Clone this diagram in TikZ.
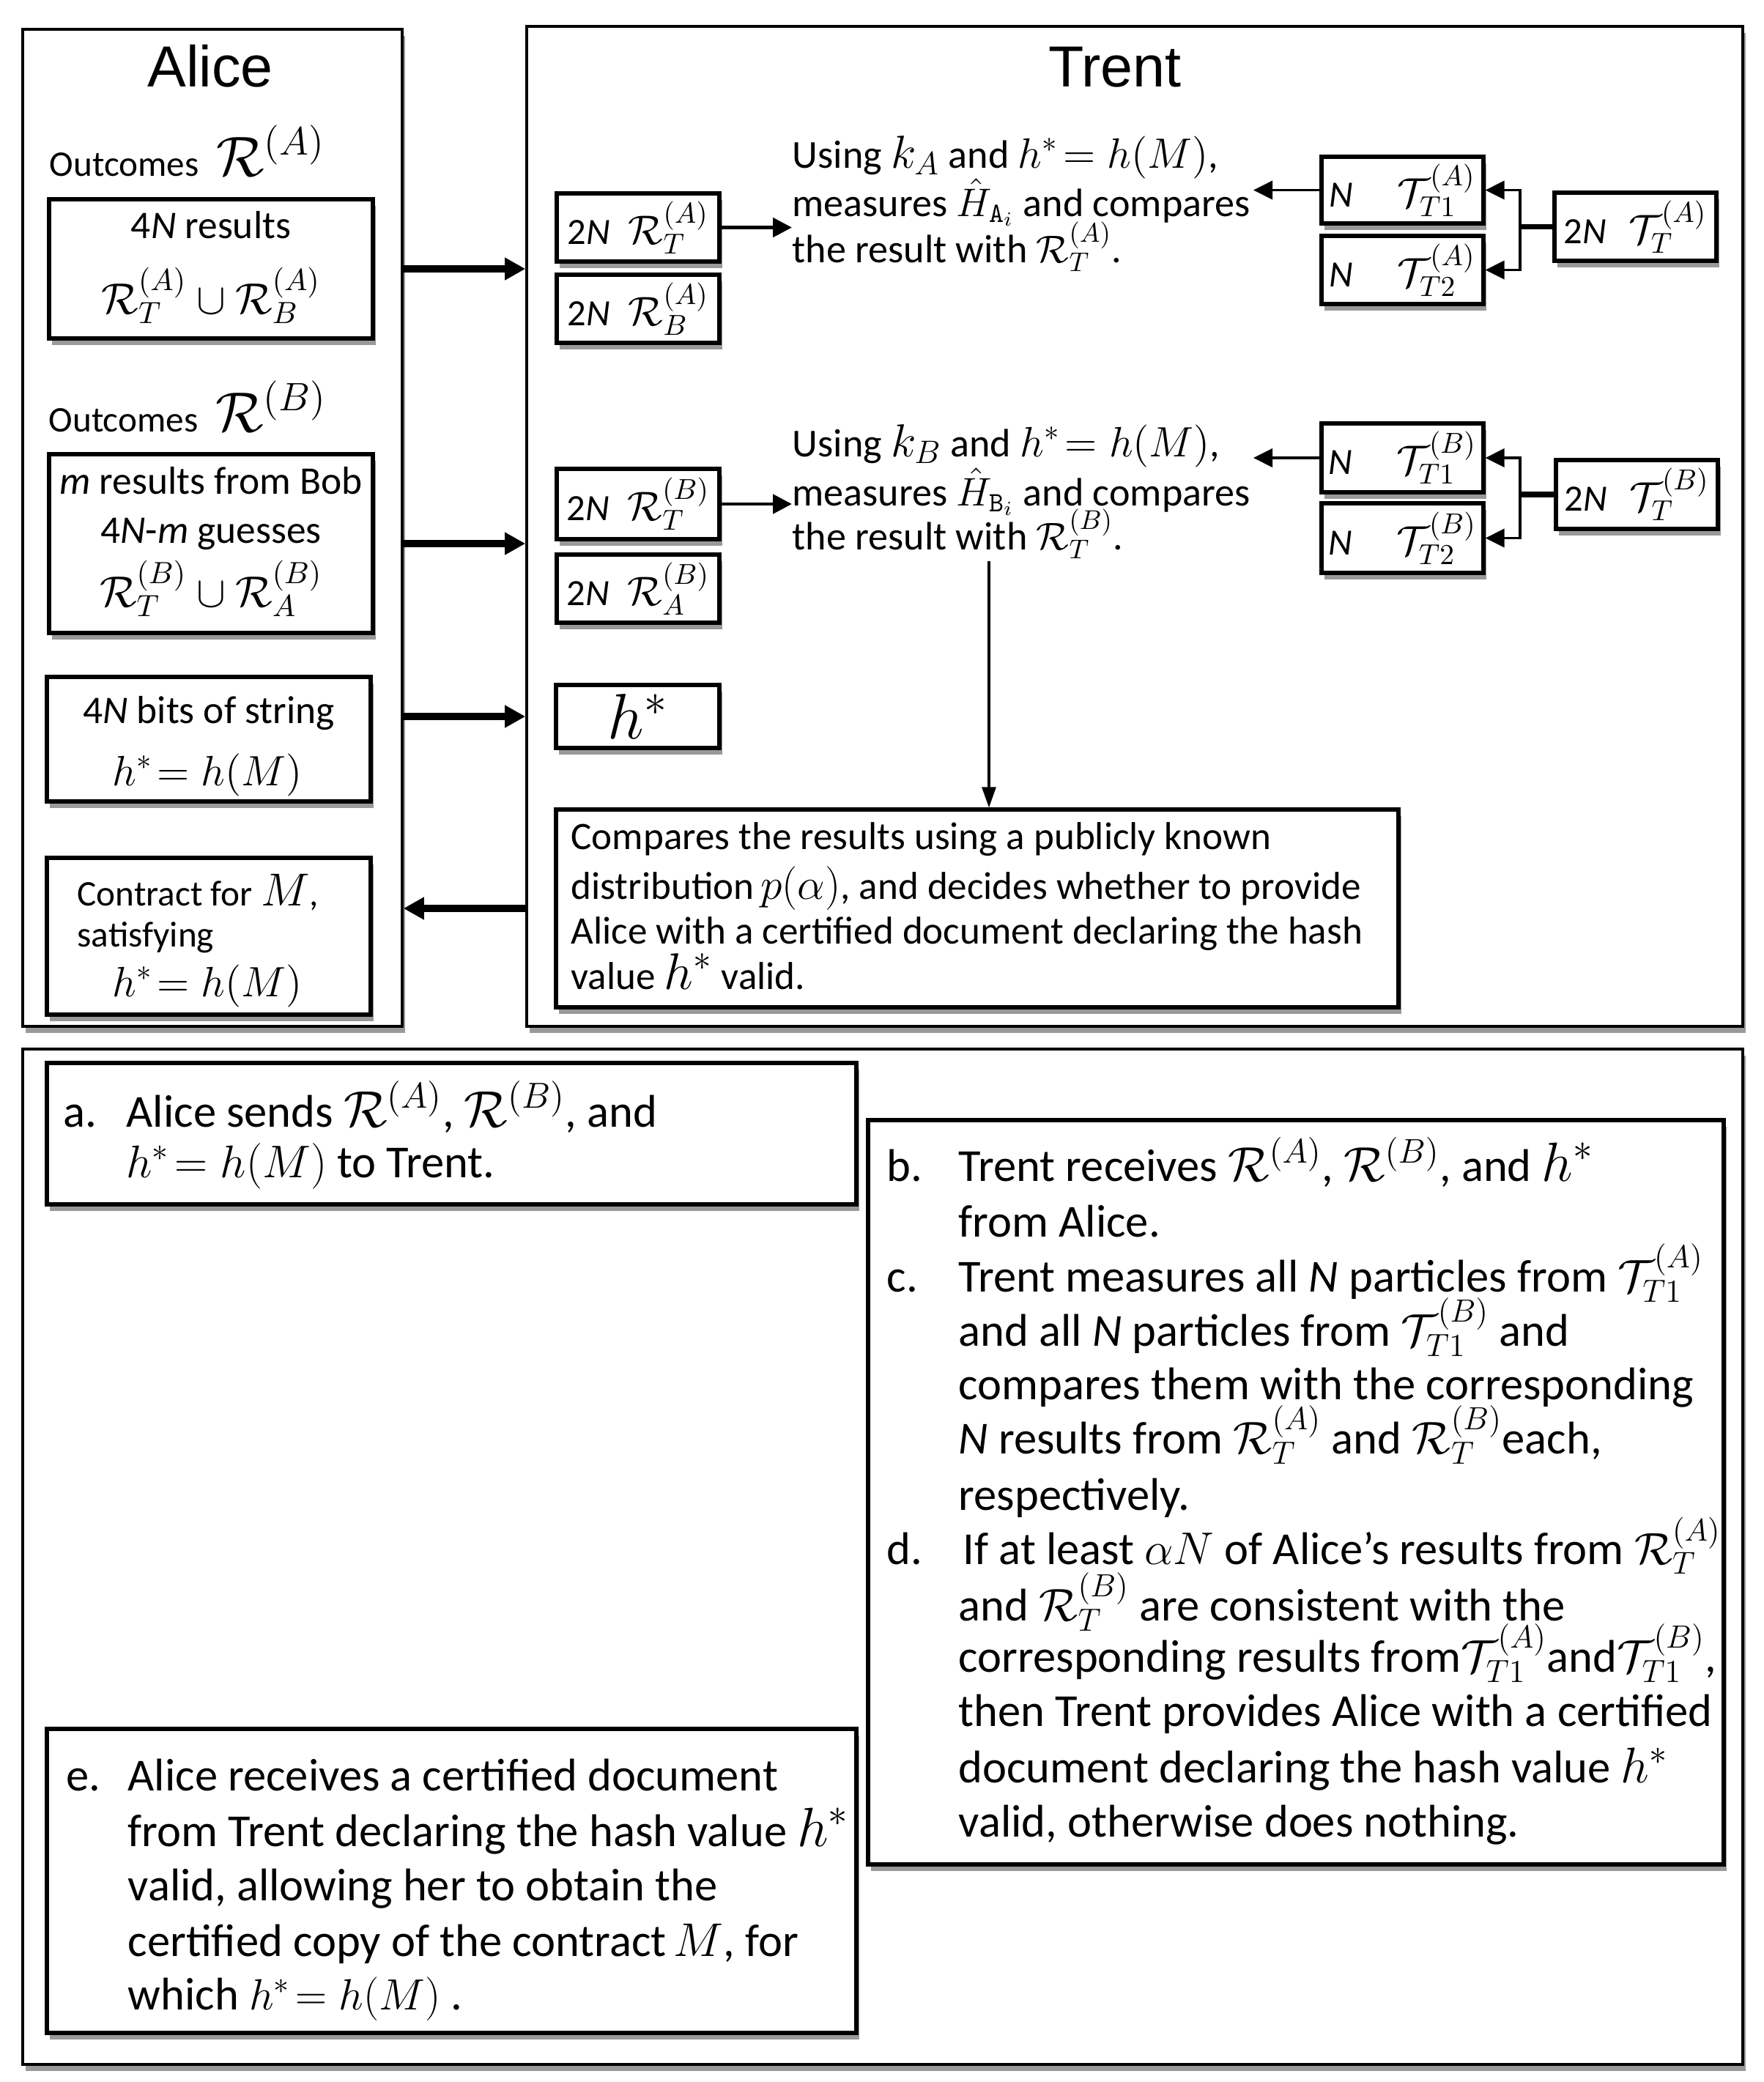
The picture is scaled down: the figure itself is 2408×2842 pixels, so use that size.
\RequirePackage{fix-cm}
\documentclass[tikz,border=0pt]{standalone}
\usepackage[no-math]{fontspec}
\setmainfont{Carlito}
\newfontfamily\titlefont{Liberation Sans}
\usetikzlibrary{arrows.meta,shadows}
\newcommand\msz[2]{{\fontsize{#1}{#1}\selectfont$#2$}}
\newcommand\boxat[7]{\node[#6,minimum width={(#4-#2)*0.1mm},minimum height={(#5-#3)*0.1mm}] (#1) at ({(#2+#4)/2},{(#3+#5)/2}) {#7};}
\begin{document}
\begin{tikzpicture}[x=0.1mm,y=-0.1mm,
  shad/.style={drop shadow={shadow xshift=0.4mm,shadow yshift=-0.9mm,opacity=0.4,fill=black}},
  outerbox/.style={draw,line width=1pt,fill=white,shad,inner sep=0pt},
  ibox/.style={draw,line width=1.5pt,fill=white,shad,inner sep=0pt,font=\fontsize{14.4}{17}\selectfont},
  title/.style={inner sep=0pt,anchor=base,font=\titlefont\fontsize{22.5}{26}\selectfont},
  ln/.style={inner sep=0pt,anchor=base west},
  lnc/.style={inner sep=0pt,anchor=base},
  fo/.style={font=\fontsize{14}{17}\selectfont},
  fa/.style={font=\fontsize{15.2}{18}\selectfont},
  fc/.style={font=\fontsize{15.1}{18}\selectfont},
  ft/.style={font=\fontsize{15.4}{18}\selectfont},
  fb/.style={font=\fontsize{17.8}{21}\selectfont},
  bigarr/.style={line width=2.8pt,-{Triangle[length=2.8mm,width=2.9mm]}},
  medarr/.style={line width=1.4pt,-{Triangle[length=2.6mm,width=2.6mm]}},
  tarr/.style={line width=1.1pt,-{Triangle[length=2.6mm,width=2.5mm]}},
  varr/.style={line width=0.9pt,-{Triangle[length=2.8mm,width=1.9mm]}}
]
\useasboundingbox (0,0) rectangle (2408,2842);

% outer frames
\boxat{alice}{31}{40}{549}{1401}{outerbox}{}
\boxat{trent}{719}{36}{2379}{1401}{outerbox}{}
\boxat{steps}{31}{1432}{2379}{2818}{outerbox}{}

\node[title] (alicet) at (287,118) {Alice};
\node[title] (trentt) at (1522,118) {Trent};

% ---------------- Alice ----------------
\node[ln,fo] (outa) at (67,240) {Outcomes\hspace{2.4mm}\msz{22}{\mathcal{R}^{(A)}}};
\boxat{a1}{67}{272}{509}{462}{ibox}{}
\node[lnc,fa] (a1l1) at (288,325) {4\textit{N} results};
\node[lnc,fa] (a1l2) at (288,428) {\msz{17}{\mathcal{R}_T^{(A)}\cup\mathcal{R}_B^{(A)}}};

\node[ln,fo] (outb) at (66,589) {Outcomes\hspace{2.4mm}\msz{22}{\mathcal{R}^{(B)}}};
\boxat{a2}{67}{620}{509}{864}{ibox}{}
\node[lnc,fa] (a2l1) at (288,674) {\textit{m} results from Bob};
\node[lnc,fa] (a2l2) at (288,741) {4\textit{N}-\textit{m} guesses};
\node[lnc,fa] (a2l3) at (288,828) {\msz{17}{\mathcal{R}_T^{(B)}\cup\mathcal{R}_A^{(B)}}};

\boxat{a3}{64}{924}{506}{1094}{ibox}{}
\node[lnc,fa] (a3l1) at (285,987) {4\textit{N} bits of string};
\node[lnc,fa] (a3l2) at (283,1072) {\msz{16.5}{h^*\!=h(M)}};

\boxat{a4}{64}{1171}{506}{1385}{ibox}{}
\node[ln,fo] (a4l1) at (105,1236) {Contract for \msz{18}{M},};
\node[ln,fo] (a4l2) at (105,1292) {satisfying};
\node[lnc,fa] (a4l3) at (283,1360) {\msz{16.5}{h^*\!=h(M)}};

% ---------------- Trent ----------------
\boxat{rta}{760}{264}{982}{357}{ibox}{2\textit{N}\hspace{2.5mm}\msz{16}{\mathcal{R}_T^{(A)}}}
\boxat{rba}{760}{375}{982}{468}{ibox}{2\textit{N}\hspace{2.5mm}\msz{16}{\mathcal{R}_B^{(A)}}}
\boxat{rtb}{760}{640}{982}{736}{ibox}{2\textit{N}\hspace{2.5mm}\msz{16}{\mathcal{R}_T^{(B)}}}
\boxat{rab}{760}{757}{982}{850}{ibox}{2\textit{N}\hspace{2.5mm}\msz{16}{\mathcal{R}_A^{(B)}}}
\boxat{hs}{759}{935}{982}{1021}{ibox}{\msz{25}{h^*}}

\boxat{tt1a}{1804}{214}{2025}{305}{ibox}{\textit{N}\hspace{6mm}\msz{16}{\mathcal{T}_{T1}^{(A)}}}
\boxat{tt2a}{1804}{322}{2025}{415}{ibox}{\textit{N}\hspace{6mm}\msz{16}{\mathcal{T}_{T2}^{(A)}}}
\boxat{tta}{2122}{263}{2343}{356}{ibox}{2\textit{N}\hspace{3mm}\msz{16}{\mathcal{T}_{T}^{(A)}}}
\boxat{tt1b}{1804}{578}{2025}{672}{ibox}{\textit{N}\hspace{6mm}\msz{16}{\mathcal{T}_{T1}^{(B)}}}
\boxat{tt2b}{1804}{687}{2025}{782}{ibox}{\textit{N}\hspace{6mm}\msz{16}{\mathcal{T}_{T2}^{(B)}}}
\boxat{ttb}{2124}{628}{2345}{722}{ibox}{2\textit{N}\hspace{3mm}\msz{16}{\mathcal{T}_{T}^{(B)}}}

\node[ln,ft] (ta1) at (1081,229) {Using \msz{18}{k_A} and \msz{16.5}{h^*\!=h(M)},};
\node[ln,ft] (ta2) at (1081,295) {measures \msz{15.5}{\hat{H}_{\mathtt{A}_i}} and compares};
\node[ln,ft] (ta3) at (1081,358) {the result with \msz{15}{\mathcal{R}_T^{(A)}}.};
\node[ln,ft] (tb1) at (1081,623) {Using \msz{18}{k_B} and \msz{16.5}{h^*\!=h(M)},};
\node[ln,ft] (tb2) at (1081,690) {measures \msz{15.5}{\hat{H}_{\mathtt{B}_i}} and compares};
\node[ln,ft] (tb3) at (1081,750) {the result with \msz{15}{\mathcal{R}_T^{(B)}}.};

\boxat{cmp}{759}{1105}{1909}{1375}{ibox}{}
\node[ln,fc] (c1) at (779,1159) {Compares the results using a publicly known};
\node[ln,fc] (c2) at (779,1227) {distribution\,\msz{17}{p(\alpha)}, and decides whether to provide};
\node[ln,fc] (c3) at (779,1288) {Alice with a certified document declaring the hash};
\node[ln,fc] (c4) at (779,1350) {value \msz{20}{h^*} valid.};

\coordinate (tipA) at (1711,0);
\coordinate (brA) at (2075,0);
\coordinate (vtop) at (1350,766);

% ---------------- steps ----------------
\boxat{sa}{64}{1451}{1169}{1644}{ibox}{}
\node[ln,fb] (la) at (86,1538) {a.};
\node[ln,fb] (sa1) at (172,1538) {Alice sends \msz{20}{\mathcal{R}^{(A)}}, \msz{20}{\mathcal{R}^{(B)}}, and};
\node[ln,fb] (sa2) at (172,1607) {\msz{17.8}{h^*\!=h(M)} to Trent.};

\boxat{sb}{1185}{1529}{2353}{2545}{ibox}{}
\node[ln,fb] (lb) at (1210,1612) {b.};
\node[ln,fb] (b1) at (1308,1612) {Trent receives \msz{19}{\mathcal{R}^{(A)}}, \msz{19}{\mathcal{R}^{(B)}}, and \msz{21.5}{h^*}};
\node[ln,fb] (b2) at (1308,1688) {from Alice.};
\node[ln,fb] (lc) at (1210,1763) {c.};
\node[ln,fb] (c1b) at (1308,1763) {Trent measures all \textit{N} particles from \msz{17.8}{\mathcal{T}_{T1}^{(A)}}};
\node[ln,fb] (c2b) at (1308,1837) {and all \textit{N} particles from \msz{17.8}{\mathcal{T}_{T1}^{(B)}} and};
\node[ln,fb] (c3b) at (1308,1910) {compares them with the corresponding};
\node[ln,fb] (c4b) at (1308,1984) {\textit{N} results from \msz{17.8}{\mathcal{R}_T^{(A)}} and \msz{17.8}{\mathcal{R}_T^{(B)}}each,};
\node[ln,fb] (c5b) at (1308,2061) {respectively.};
\node[ln,fb] (ld) at (1210,2135) {d.};
\node[ln,fb] (d1) at (1314,2135) {If at least \msz{17.8}{\alpha N} of Alice’s results from \msz{17.5}{\mathcal{R}_T^{(A)}}};
\node[ln,fb] (d2) at (1308,2212) {and \msz{17.8}{\mathcal{R}_T^{(B)}} are consistent with the};
\node[ln,fb] (d3) at (1308,2282) {corresponding results from\msz{17.8}{\mathcal{T}_{T1}^{(A)}}and\msz{17.8}{\mathcal{T}_{T1}^{(B)}},};
\node[ln,fb] (d4) at (1308,2356) {then Trent provides Alice with a certified};
\node[ln,fb] (d5) at (1308,2433) {document declaring the hash value \msz{19.5}{h^*}};
\node[ln,fb] (d6) at (1308,2507) {valid, otherwise does nothing.};

\boxat{se}{64}{2360}{1169}{2775}{ibox}{}
\node[ln,fb] (le) at (90,2444) {e.};
\node[ln,fb] (e1) at (174,2444) {Alice receives a certified document};
\node[ln,fb] (e2) at (174,2520) {from Trent declaring the hash value \msz{21.5}{h^*}};
\node[ln,fb] (e3) at (174,2594) {valid, allowing her to obtain the};
\node[ln,fb] (e4) at (174,2670) {certified copy of the contract\,\msz{18.4}{M}, for};
\node[ln,fb] (e5) at (174,2743) {which \msz{17}{h^*\!=h(M)} .};

% ---------------- connectors ----------------
\draw[bigarr] (alice.east |- a1) -- (trent.west |- a1);
\draw[bigarr] (alice.east |- a2) -- (trent.west |- a2);
\draw[bigarr] (alice.east |- hs) -- (trent.west |- hs);
\draw[bigarr] (trent.west |- cmp) -- (alice.east |- cmp);

\draw[medarr] (rta.east) -- (rta.east -| ta2.west);
\draw[medarr] (rtb.east) -- (rtb.east -| tb2.west);

\draw[tarr] (tt1a.west) -- (tt1a.west -| tipA);
\draw[tarr] (tt1b.west) -- (tt1b.west -| tipA);

\draw[line width=2.2pt] (tta.west) -- (tta.west -| brA);
\draw[tarr] (tta.west -| brA) |- (tt1a.east);
\draw[tarr] (tta.west -| brA) |- (tt2a.east);
\draw[line width=2.2pt] (ttb.west) -- (ttb.west -| brA);
\draw[tarr] (ttb.west -| brA) |- (tt1b.east);
\draw[tarr] (ttb.west -| brA) |- (tt2b.east);

\draw[varr] (vtop) -- (vtop |- cmp.north);
\end{tikzpicture}
\end{document}
